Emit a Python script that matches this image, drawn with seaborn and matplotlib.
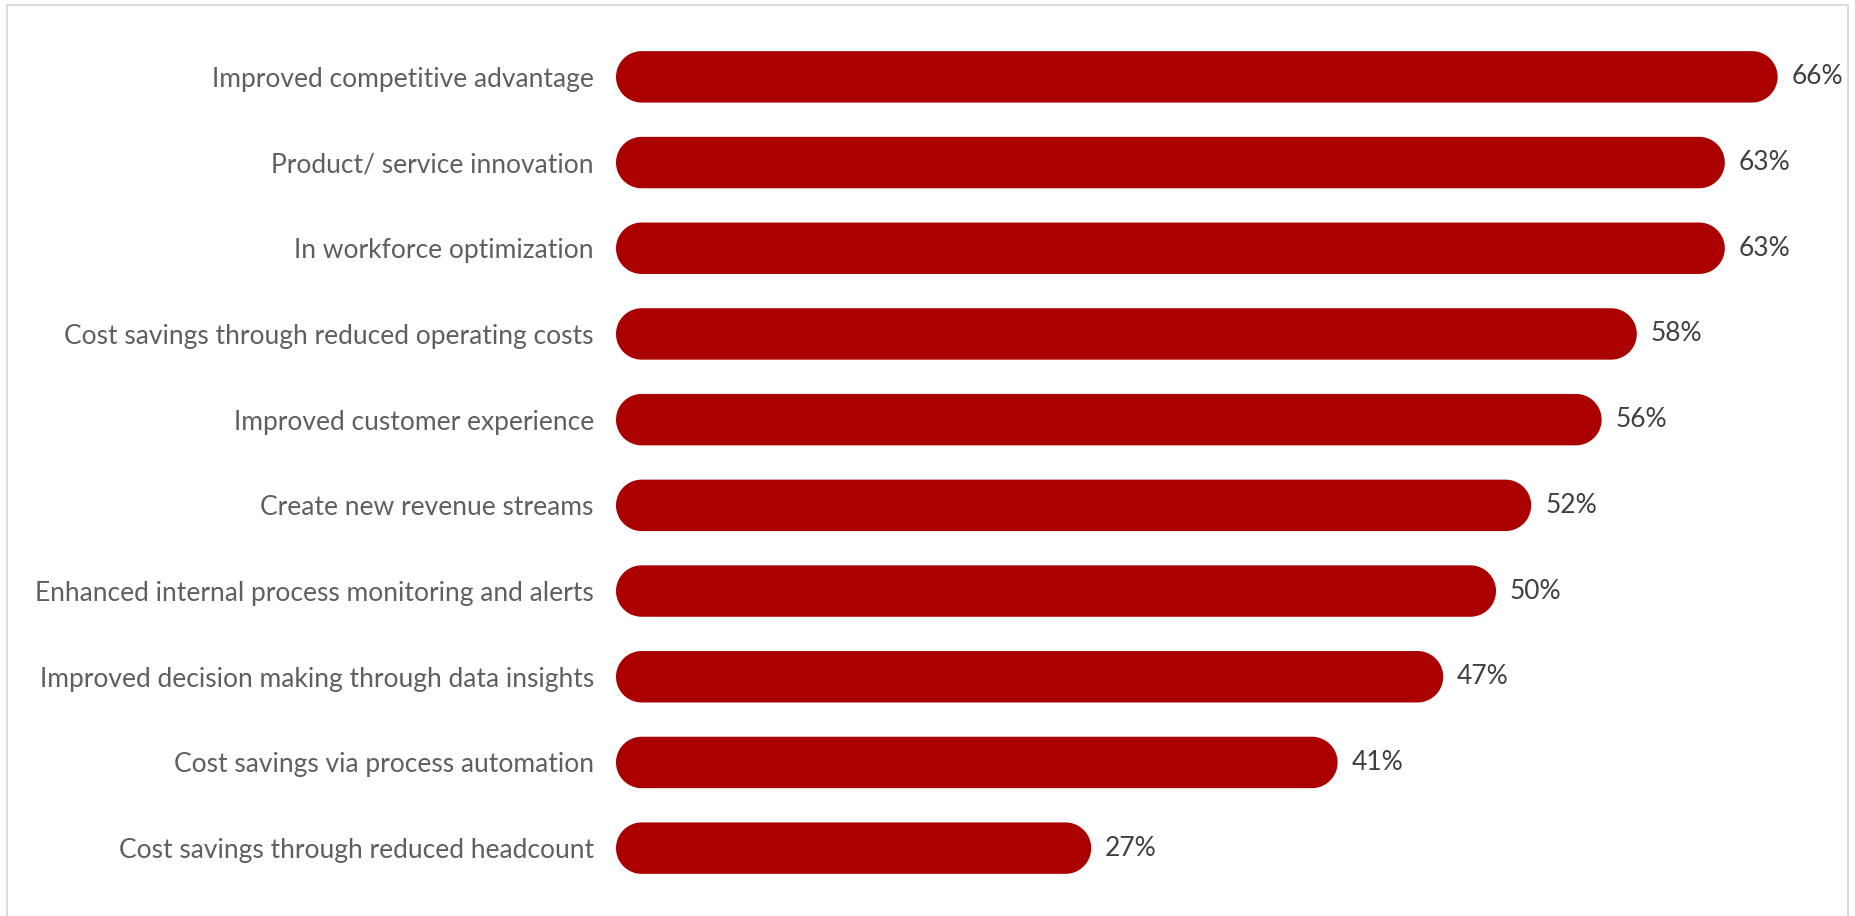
import matplotlib
matplotlib.use("Agg")
import matplotlib.pyplot as plt
import seaborn as sns
import pandas as pd
import numpy as np
from matplotlib.patches import Polygon, Rectangle

categories = [
    "Improved competitive advantage",
    "Product/ service innovation",
    "In workforce optimization",
    "Cost savings through reduced operating costs",
    "Improved customer experience",
    "Create new revenue streams",
    "Enhanced internal process monitoring and alerts",
    "Improved decision making through data insights",
    "Cost savings via process automation",
    "Cost savings through reduced headcount",
]
values = [66, 63, 63, 58, 56, 52, 50, 47, 41, 27]
value_labels = [f"{v}%" for v in values]

sns.set_theme(style="white")
plt.rcParams["font.family"] = ["Lato", "DejaVu Sans"]

W, H, DPI = 1855, 916, 100
fig = plt.figure(figsize=(W / DPI, H / DPI), dpi=DPI)
ax_l, ax_r = 616, 1848
ax_t, ax_b = 34, 891
ax = fig.add_axes([ax_l / W, 1 - ax_b / H, (ax_r - ax_l) / W, (ax_b - ax_t) / H])

df = pd.DataFrame({"cat": categories, "val": values})
BAR_COLOR = "#AA0000"
sns.barplot(data=df, x="val", y="cat", color=BAR_COLOR, orient="h", width=0.6,
            ax=ax, saturation=1)

XMAX = 70
ax.set_xlim(0, XMAX)
ax.set_ylim(len(categories) - 0.5, -0.5)

pxx = (ax_r - ax_l) / XMAX
pxy = (ax_b - ax_t) / len(categories)

bars = list(ax.patches)
theta = np.linspace(-np.pi / 2, np.pi / 2, 60)
for p in bars:
    x, y = p.get_x(), p.get_y()
    w, h = p.get_width(), abs(p.get_height())
    yc = y + p.get_height() / 2
    ry = h / 2
    rx = ry * pxy / pxx
    xr = x + w - rx
    xl = x + rx
    right = np.column_stack([xr + rx * np.cos(theta), yc + ry * np.sin(theta)])
    left = np.column_stack([xl - rx * np.cos(theta[::-1]), yc + ry * np.sin(theta[::-1])])
    verts = np.vstack([right, left])
    ax.add_patch(Polygon(verts, closed=True, facecolor=BAR_COLOR,
                         edgecolor="none", linewidth=0, antialiased=True))
    p.set_visible(False)

for i, (v, lab) in enumerate(zip(values, value_labels)):
    ax.text(v + 14 / pxx, i, lab, va="center", ha="left", fontsize=19,
            color="#404040")

ax.set_xlabel("")
ax.set_ylabel("")
ax.set_xticks([])
ax.tick_params(axis="y", length=0, pad=16, labelsize=19, labelcolor="#5f5f5f")
for s in ax.spines.values():
    s.set_visible(False)

frame = Rectangle((7 / W, -0.05), (1848 - 7) / W, 1.05 - 5 / H,
                  transform=fig.transFigure, fill=False, edgecolor="#dcdcdc",
                  linewidth=1.5, clip_on=False)
fig.patches.append(frame)

fig.savefig("out.png", dpi=DPI)
